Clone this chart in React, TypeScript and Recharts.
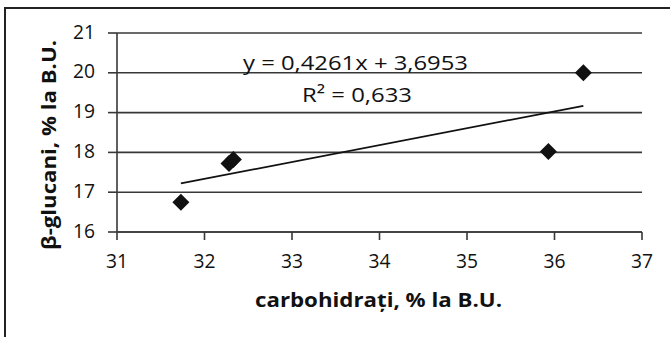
import { ScatterChart, Scatter, XAxis, YAxis, CartesianGrid, Label } from "recharts";

// carbohidrati (% B.U.) vs beta-glucani (% B.U.)
const carbo = [31.73, 32.28, 32.33, 35.93, 36.33];
const glucani = [16.75, 17.72, 17.82, 18.02, 20.0];

// linear trend endpoints
const trendX = [31.73, 36.33];
const trendY = [17.22, 19.17];

const xTicks = [31, 32, 33, 34, 35, 36, 37];
const yTicks = [16, 17, 18, 19, 20, 21];

const points = carbo.map((x, i) => ({ x, y: glucani[i] }));
const trend = trendX.map((x, i) => ({ x, y: trendY[i] }));

const FONT = "'Open Sans', sans-serif";
const INK = "#111";
const GRID = "#383838";

// the source picture is slightly stretched sideways, so text gets a forced length
const stretch = { lengthAdjust: "spacingAndGlyphs" as const };

const Diamond = (props: any) => {
  const { cx, cy } = props;
  if (cx == null || cy == null) return null;
  const r = 8.5;
  return (
    <polygon
      points={`${cx},${cy - r} ${cx + r},${cy} ${cx},${cy + r} ${cx - r},${cy}`}
      fill={INK}
    />
  );
};

const XTick = (props: any) => {
  const { x, y, payload } = props;
  const s = String(payload.value);
  return (
    <text x={x} y={y + 14} textAnchor="middle" fontFamily={FONT} fontSize={20} fill={INK} textLength={11 * s.length} {...stretch}>
      {s}
    </text>
  );
};

const YTick = (props: any) => {
  const { x, y, payload } = props;
  const s = String(payload.value);
  return (
    <text x={x} y={y + 5.5} textAnchor="end" fontFamily={FONT} fontSize={20} fill={INK} textLength={11 * s.length} {...stretch}>
      {s}
    </text>
  );
};

export default function App() {
  return (
    <div style={{ position: "relative", width: 670, height: 337, overflow: "hidden", background: "#fff" }}>
      <style>{"body{margin:0}"}</style>
      <div
        style={{
          position: "absolute",
          left: 4,
          top: 7,
          width: 720,
          height: 400,
          borderLeft: "2px solid #222",
          borderTop: "2px solid #222",
        }}
      />
      <div style={{ position: "absolute", left: 0, top: 0 }}>
        <ScatterChart width={670} height={337} margin={{ top: 33, right: 28, left: 0, bottom: 45 }}>
          <CartesianGrid vertical={false} stroke={GRID} strokeWidth={1.6} />
          <XAxis
            type="number"
            dataKey="x"
            domain={[31, 37]}
            ticks={xTicks}
            height={60}
            tickSize={8}
            tickMargin={14}
            stroke={GRID}
            strokeWidth={1.6}
            tick={<XTick />}
            tickLine={{ stroke: GRID, strokeWidth: 1.6 }}
          >
            <Label
              content={() => (
                <text
                  x={378.5}
                  y={307}
                  textAnchor="middle"
                  fontFamily={FONT}
                  fontWeight="bold"
                  fontSize={20}
                  fill={INK}
                  textLength={247}
                  {...stretch}
                >
                  carbohidrați, % la B.U.
                </text>
              )}
            />
          </XAxis>
          <YAxis
            type="number"
            dataKey="y"
            domain={[16, 21]}
            ticks={yTicks}
            width={117}
            tickSize={9}
            tickMargin={13}
            stroke={GRID}
            strokeWidth={1.6}
            tick={<YTick />}
            tickLine={{ stroke: GRID, strokeWidth: 1.6 }}
          >
            <Label
              content={() => (
                <text
                  x={56}
                  y={145}
                  transform="rotate(-90 56 145)"
                  textAnchor="middle"
                  fontFamily={FONT}
                  fontWeight="bold"
                  fontSize={20}
                  fill={INK}
                  textLength={210}
                  {...stretch}
                >
                  β-glucani, % la B.U.
                </text>
              )}
            />
          </YAxis>
          <Scatter
            data={trend}
            line={{ stroke: INK, strokeWidth: 1.7 }}
            shape={() => null}
            isAnimationActive={false}
          />
          <Scatter data={points} shape={Diamond} isAnimationActive={false} />
          <text x={355.5} y={70} textAnchor="middle" fontFamily={FONT} fontSize={20} fill={INK} textLength={225} {...stretch}>
            y = 0,4261x + 3,6953
          </text>
          <text x={357} y={102} textAnchor="middle" fontFamily={FONT} fontSize={20} fill={INK} textLength={110} {...stretch}>
            R² = 0,633
          </text>
        </ScatterChart>
      </div>
    </div>
  );
}
